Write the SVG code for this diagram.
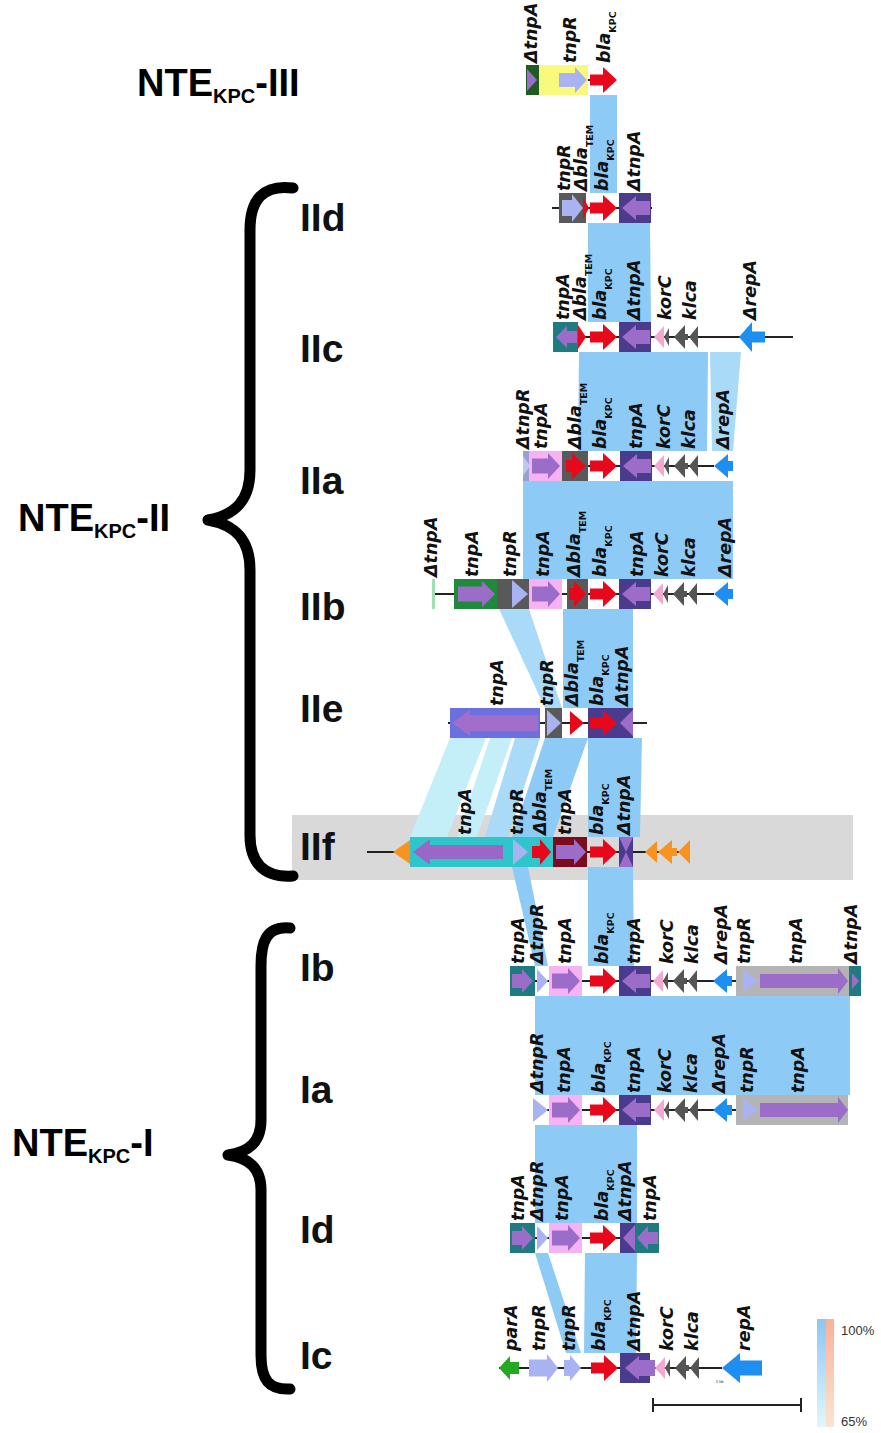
<svg xmlns="http://www.w3.org/2000/svg" width="881" height="1433" viewBox="0 0 881 1433">
<defs>
<style>
.lab{font-family:"DejaVu Sans","Open Sans",sans-serif;font-weight:700;font-style:oblique;font-size:17.5px;fill:#111}
.sub{font-size:9.5px;font-style:normal}
.big{font-family:"Liberation Sans",Arial,sans-serif;font-weight:700;font-size:38px;fill:#000}
.bsub{font-size:20px}
.row{font-family:"Liberation Sans",Arial,sans-serif;font-weight:700;font-size:39px;fill:#111}
.ln{stroke:#222;stroke-width:2}
.bd{fill:#8ecaf6}
.bl{fill:#a9dbf8}
.bc{fill:#c4eff9}
.dp{fill:#4a3b8f}
.lv{fill:#9b6dc9}
.tl{fill:#1e7b80}
.pk{fill:#f6b2f3}
.dg{fill:#595959}
.pw{fill:#aab3f1}
.rd{fill:#e8081c}
.kc{fill:#f3a8d2}
.kl{fill:#555}
.rp{fill:#1d8ff0}
.lg{fill:#b4b4b4}
.or{fill:#f7931e}
.brace{fill:none;stroke:#000;stroke-width:11;stroke-linecap:round;stroke-linejoin:round}
.pct{font-family:"Liberation Sans",Arial,sans-serif;font-size:13px;fill:#333}
</style>
<linearGradient id="gB" x1="0" y1="0" x2="0" y2="1"><stop offset="0" stop-color="#8cc6f3"/><stop offset="1" stop-color="#e2f7fb"/></linearGradient>
<linearGradient id="gS" x1="0" y1="0" x2="0" y2="1"><stop offset="0" stop-color="#f8b296"/><stop offset="1" stop-color="#fde3d3"/></linearGradient>
<!-- blaKPC arrow, 27 px long -->
<polygon id="bla" class="rd" points="0,-5.5 13,-5.5 13,-13 27,0 13,13 13,5.5 0,5.5"/>
<!-- tnpA box: dark purple with left-pointing lavender arrow -->
<g id="tnpAL">
<rect class="dp" x="0" y="-15" width="32" height="30"/>
<polygon class="lv" points="3,0 17,-12 17,-7 31,-7 31,7 17,7 17,12"/>
</g>
<!-- korC + klca cluster -->
<g id="kk">
<polygon class="kc" points="0,0 10,-11 10,11"/>
<polygon class="kl" points="10,0 15,-9 15,9"/>
<polygon class="kl" points="20,0 31,-12 31,-3 34,-3 34,3 31,3 31,12"/>
<polygon class="kl" points="35,0 44,-11 44,11"/>
</g>
<!-- pink tnpA box with right arrow -->
<g id="tnpAR">
<rect class="pk" x="0" y="-15" width="33" height="30"/>
<polygon class="lv" points="3,-7.5 19,-7.5 19,-13 31,0 19,13 19,7.5 3,7.5"/>
</g>
<!-- teal tnpA box with right arrow -->
<g id="tealR">
<rect class="tl" x="0" y="-15" width="25" height="30"/>
<polygon class="lv" points="2,-7 12,-7 12,-12 23,0 12,12 12,7 2,7"/>
</g>
<!-- small deleted repA -->
<polygon id="drep" class="rp" points="0,0 14,-12 14,-5 19,-5 19,5 14,5 14,12"/>
</defs>

<rect width="881" height="1433" fill="#fff"/>

<!-- IIf highlight strip -->
<rect x="292" y="815" width="561" height="65" fill="#d9d9d9"/>

<!-- comparison bands -->
<g id="links">
<polygon class="bd" points="590,95 617,95 617,193 590,193"/>
<polygon class="bd" points="588,223 650,223 651,322 588,322"/>
<polygon class="bd" points="579,352 708,352 707,451 578,451"/>
<polygon class="bl" points="710,352 741,352 733,451 712,451"/>
<polygon class="bd" points="523,481 733,481 733,579 523,579"/>
<polygon class="bl" points="499,609 529,609 562,708 545,708"/>
<polygon class="bd" points="563,609 633,609 633,708 563,708"/>
<polygon class="bc" points="450,738 486,738 447,837 410,837"/>
<polygon class="bc" points="490,738 512,738 477,837 457,837"/>
<polygon class="bl" points="515,738 540,738 508,837 485,837"/>
<polygon class="bd" points="545,738 588,738 553,837 512,837"/>
<polygon class="bd" points="588,738 642,738 640,837 588,837"/>
<polygon class="bd" points="512,867 528,867 548,966 535,966"/>
<polygon class="bd" points="588,867 633,867 634,966 588,966"/>
<polygon class="bd" points="535,996 850,996 850,1095 535,1095"/>
<polygon class="bd" points="535,1125 637,1125 637,1223 535,1223"/>
<polygon class="bd" points="535,1253 548,1253 581,1353 566,1353"/>
<polygon class="bd" points="585,1253 637,1253 636,1353 584,1353"/>
</g>

<!-- group labels and braces -->
<g id="labels">
<text class="big" x="137" y="96">NTE<tspan class="bsub" dy="7">KPC</tspan><tspan dy="-7">-III</tspan></text>
<text class="big" x="18" y="531">NTE<tspan class="bsub" dy="7">KPC</tspan><tspan dy="-7">-II</tspan></text>
<text class="big" x="12" y="1156">NTE<tspan class="bsub" dy="7">KPC</tspan><tspan dy="-7">-I</tspan></text>
<path class="brace" d="M293,188 C263,184 250,200 250,230 L250,470 C250,500 236,515 208,520 C236,525 250,540 250,570 L250,835 C250,862 263,878 293,876"/>
<path class="brace" d="M290,928 C266,926 261,942 261,966 L261,1120 C261,1142 249,1152 228,1155 C249,1158 261,1168 261,1190 L261,1355 C261,1380 269,1390 290,1389"/>
<text class="row" x="300" y="231">IId</text>
<text class="row" x="300" y="362">IIc</text>
<text class="row" x="300" y="494">IIa</text>
<text class="row" x="300" y="620">IIb</text>
<text class="row" x="300" y="722">IIe</text>
<text class="row" x="300" y="860">IIf</text>
<text class="row" x="300" y="981">Ib</text>
<text class="row" x="300" y="1103">Ia</text>
<text class="row" x="300" y="1243">Id</text>
<text class="row" x="300" y="1369">Ic</text>
</g>

<!-- NTE-III -->
<g id="row-III" transform="translate(0,80)">
<line class="ln" x1="586" y1="0" x2="591" y2="0"/>
<rect x="526" y="-15" width="13" height="30" fill="#1e5a22"/>
<polygon class="lv" points="527,-11 537,0 527,11"/>
<rect x="539" y="-15" width="49" height="30" fill="#f9f97e"/>
<polygon class="pw" points="559,-7 575,-7 575,-13 587,0 575,13 575,7 559,7"/>
<use href="#bla" x="590"/>
<text class="lab" transform="translate(537,-17) rotate(-90)">ΔtnpA</text>
<text class="lab" transform="translate(576,-17) rotate(-90)">tnpR</text>
<text class="lab" transform="translate(610,-17) rotate(-90)">bla<tspan class="sub" dy="6">KPC</tspan></text>
</g>

<!-- IId -->
<g id="row-IId" transform="translate(0,208)">
<line class="ln" x1="552" y1="0" x2="652" y2="0"/>
<rect class="dg" x="559" y="-15" width="27" height="30"/>
<polygon class="pw" points="562,-8 572,-8 572,-14 583,0 572,14 572,8 562,8"/>
<polygon class="rd" points="583,-11 589,0 583,11"/>
<use href="#bla" x="590"/>
<use href="#tnpAL" x="619"/>
<text class="lab" transform="translate(570,-17) rotate(-90)">tnpR</text>
<text class="lab" transform="translate(587,-17) rotate(-90)">Δbla<tspan class="sub" dy="6">TEM</tspan></text>
<text class="lab" transform="translate(608,-17) rotate(-90)">bla<tspan class="sub" dy="6">KPC</tspan></text>
<text class="lab" transform="translate(640,-17) rotate(-90)">ΔtnpA</text>
</g>

<!-- IIc -->
<g id="row-IIc" transform="translate(0,337)">
<line class="ln" x1="578" y1="0" x2="793" y2="0"/>
<rect class="tl" x="553" y="-15" width="25" height="30"/>
<polygon class="lv" points="556,0 567,-11 567,-6 577,-6 577,6 567,6 567,11"/>
<polygon class="rd" points="578,-12 586,0 578,12"/>
<use href="#bla" x="590"/>
<use href="#tnpAL" x="619"/>
<use href="#kk" x="654"/>
<polygon class="rp" points="739,0 752,-15 752,-5.5 765,-5.5 765,5.5 752,5.5 752,15"/>
<text class="lab" transform="translate(569,-17) rotate(-90)">tnpA</text>
<text class="lab" transform="translate(586,-17) rotate(-90)">Δbla<tspan class="sub" dy="6">TEM</tspan></text>
<text class="lab" transform="translate(606,-17) rotate(-90)">bla<tspan class="sub" dy="6">KPC</tspan></text>
<text class="lab" transform="translate(640,-17) rotate(-90)">ΔtnpA</text>
<text class="lab" transform="translate(671,-17) rotate(-90)">korC</text>
<text class="lab" transform="translate(696,-17) rotate(-90)">klca</text>
<text class="lab" transform="translate(756,-17) rotate(-90)">ΔrepA</text>
</g>

<!-- IIa -->
<g id="row-IIa" transform="translate(0,466)">
<line class="ln" x1="523" y1="0" x2="714" y2="0"/>
<rect x="523" y="-15" width="7" height="30" fill="#9aa0d4"/>
<polygon points="523,-10 530,0 523,10" fill="#c0c6f6"/>
<use href="#tnpAR" x="529"/>
<rect class="dg" x="562" y="-15" width="26" height="30"/>
<polygon class="rd" points="566,-6 572,-6 572,-13 586,0 572,13 572,6 566,6"/>
<use href="#bla" x="590"/>
<use href="#tnpAL" x="620"/>
<use href="#kk" x="654"/>
<use href="#drep" x="714"/>
<text class="lab" transform="translate(529,-17) rotate(-90)">ΔtnpR</text>
<text class="lab" transform="translate(547,-17) rotate(-90)">tnpA</text>
<text class="lab" transform="translate(581,-17) rotate(-90)">Δbla<tspan class="sub" dy="6">TEM</tspan></text>
<text class="lab" transform="translate(606,-17) rotate(-90)">bla<tspan class="sub" dy="6">KPC</tspan></text>
<text class="lab" transform="translate(642,-17) rotate(-90)">tnpA</text>
<text class="lab" transform="translate(670,-17) rotate(-90)">korC</text>
<text class="lab" transform="translate(695,-17) rotate(-90)">klca</text>
<text class="lab" transform="translate(729,-17) rotate(-90)">ΔrepA</text>
</g>

<!-- IIb -->
<g id="row-IIb" transform="translate(0,594)">
<line class="ln" x1="433" y1="0" x2="714" y2="0"/>
<rect x="432" y="-15" width="3" height="30" fill="#9ee0b0"/>
<rect x="454" y="-15" width="43" height="30" fill="#1e8a3a"/>
<polygon class="lv" points="458,-7.5 482,-7.5 482,-13 495,0 482,13 482,7.5 458,7.5"/>
<rect class="dg" x="497" y="-15" width="32" height="30"/>
<polygon class="pw" points="512,-14 528,0 512,14"/>
<use href="#tnpAR" x="529"/>
<rect class="dg" x="567" y="-15" width="21" height="30"/>
<polygon class="rd" points="569,-6 574,-6 574,-13 586,0 574,13 574,6 569,6"/>
<use href="#bla" x="590"/>
<use href="#tnpAL" x="619"/>
<use href="#kk" x="653"/>
<use href="#drep" x="714"/>
<text class="lab" transform="translate(437,-17) rotate(-90)">ΔtnpA</text>
<text class="lab" transform="translate(478,-17) rotate(-90)">tnpA</text>
<text class="lab" transform="translate(516,-17) rotate(-90)">tnpR</text>
<text class="lab" transform="translate(549,-17) rotate(-90)">tnpA</text>
<text class="lab" transform="translate(580,-17) rotate(-90)">Δbla<tspan class="sub" dy="6">TEM</tspan></text>
<text class="lab" transform="translate(606,-17) rotate(-90)">bla<tspan class="sub" dy="6">KPC</tspan></text>
<text class="lab" transform="translate(643,-17) rotate(-90)">tnpA</text>
<text class="lab" transform="translate(668,-17) rotate(-90)">korC</text>
<text class="lab" transform="translate(695,-17) rotate(-90)">klca</text>
<text class="lab" transform="translate(731,-17) rotate(-90)">ΔrepA</text>
</g>

<!-- IIe -->
<g id="row-IIe" transform="translate(0,723)">
<line class="ln" x1="448" y1="0" x2="647" y2="0"/>
<rect x="450" y="-15" width="90" height="30" fill="#6b6fe0"/>
<polygon points="452,0 470,-13 470,-8 538,-8 538,8 470,8 470,13" fill="#a16fc9"/>
<rect class="dg" x="545" y="-15" width="17" height="30"/>
<polygon class="pw" points="547,-13 561,0 547,13"/>
<polygon class="rd" points="570,-12 584,0 570,12"/>
<rect class="dp" x="588" y="-15" width="45" height="30"/>
<use href="#bla" x="590"/>
<polygon class="lv" points="620,0 633,-13 633,13"/>
<text class="lab" transform="translate(503,-17) rotate(-90)">tnpA</text>
<text class="lab" transform="translate(553,-17) rotate(-90)">tnpR</text>
<text class="lab" transform="translate(578,-17) rotate(-90)">Δbla<tspan class="sub" dy="6">TEM</tspan></text>
<text class="lab" transform="translate(603,-17) rotate(-90)">bla<tspan class="sub" dy="6">KPC</tspan></text>
<text class="lab" transform="translate(628,-17) rotate(-90)">ΔtnpA</text>
</g>

<!-- IIf -->
<g id="row-IIf" transform="translate(0,852)">
<line class="ln" x1="367" y1="0" x2="690" y2="0"/>
<polygon class="or" points="393,0 410,-12 410,12"/>
<rect x="410" y="-15" width="143" height="30" fill="#2ec5cb"/>
<polygon points="413,0 430,-13 430,-7 503,-7 503,7 430,7 430,13" fill="#9a67c6"/>
<polygon class="pw" points="513,-13 528,0 513,13"/>
<polygon class="rd" points="532,-6 540,-6 540,-13 551,0 540,13 540,6 532,6"/>
<rect x="553" y="-15" width="34" height="30" fill="#7a0c1e"/>
<polygon class="lv" points="556,-7 574,-7 574,-13 586,0 574,13 574,7 556,7"/>
<use href="#bla" x="590"/>
<rect class="lv" x="619" y="-15" width="14" height="30"/>
<polygon class="dp" points="619,-15 626,0 619,15"/>
<polygon class="dp" points="633,-15 626,0 633,15"/>
<polygon class="or" points="645,0 657,-11 657,11"/>
<polygon class="or" points="658,0 672,-12 672,-4 677,-4 677,4 672,4 672,12"/>
<polygon class="or" points="678,0 690,-12 690,12"/>
<text class="lab" transform="translate(471,-17) rotate(-90)">tnpA</text>
<text class="lab" transform="translate(523,-17) rotate(-90)">tnpR</text>
<text class="lab" transform="translate(546,-17) rotate(-90)">Δbla<tspan class="sub" dy="6">TEM</tspan></text>
<text class="lab" transform="translate(571,-17) rotate(-90)">tnpA</text>
<text class="lab" transform="translate(603,-17) rotate(-90)">bla<tspan class="sub" dy="6">KPC</tspan></text>
<text class="lab" transform="translate(630,-17) rotate(-90)">ΔtnpA</text>
</g>

<!-- Ib -->
<g id="row-Ib" transform="translate(0,981)">
<line class="ln" x1="535" y1="0" x2="736" y2="0"/>
<use href="#tealR" x="510"/>
<polygon class="pw" points="537,-12 548,0 537,12"/>
<use href="#tnpAR" x="549"/>
<use href="#bla" x="590"/>
<use href="#tnpAL" x="619"/>
<use href="#kk" x="653"/>
<use href="#drep" x="713"/>
<rect class="lg" x="736" y="-15" width="113" height="30"/>
<polygon class="pw" points="743,-12 758,0 743,12"/>
<polygon class="lv" points="760,-7 838,-7 838,-13 848,0 838,13 838,7 760,7"/>
<rect class="tl" x="849" y="-15" width="12" height="30"/>
<polygon class="lv" points="852,-8 859,0 852,8"/>
<text class="lab" transform="translate(524,-17) rotate(-90)">tnpA</text>
<text class="lab" transform="translate(543,-17) rotate(-90)">ΔtnpR</text>
<text class="lab" transform="translate(571,-17) rotate(-90)">tnpA</text>
<text class="lab" transform="translate(608,-17) rotate(-90)">bla<tspan class="sub" dy="6">KPC</tspan></text>
<text class="lab" transform="translate(640,-17) rotate(-90)">tnpA</text>
<text class="lab" transform="translate(673,-17) rotate(-90)">korC</text>
<text class="lab" transform="translate(698,-17) rotate(-90)">klca</text>
<text class="lab" transform="translate(727,-17) rotate(-90)">ΔrepA</text>
<text class="lab" transform="translate(750,-17) rotate(-90)">tnpR</text>
<text class="lab" transform="translate(802,-17) rotate(-90)">tnpA</text>
<text class="lab" transform="translate(857,-17) rotate(-90)">ΔtnpA</text>
</g>

<!-- Ia -->
<g id="row-Ia" transform="translate(0,1110)">
<line class="ln" x1="533" y1="0" x2="736" y2="0"/>
<polygon class="pw" points="533,-12 548,0 533,12"/>
<use href="#tnpAR" x="549"/>
<use href="#bla" x="590"/>
<use href="#tnpAL" x="619"/>
<use href="#kk" x="654"/>
<use href="#drep" x="713"/>
<rect class="lg" x="736" y="-15" width="112" height="30"/>
<polygon class="pw" points="743,-12 758,0 743,12"/>
<polygon class="lv" points="760,-7 838,-7 838,-13 848,0 838,13 838,7 760,7"/>
<text class="lab" transform="translate(543,-17) rotate(-90)">ΔtnpR</text>
<text class="lab" transform="translate(570,-17) rotate(-90)">tnpA</text>
<text class="lab" transform="translate(605,-17) rotate(-90)">bla<tspan class="sub" dy="6">KPC</tspan></text>
<text class="lab" transform="translate(640,-17) rotate(-90)">tnpA</text>
<text class="lab" transform="translate(671,-17) rotate(-90)">korC</text>
<text class="lab" transform="translate(697,-17) rotate(-90)">klca</text>
<text class="lab" transform="translate(725,-17) rotate(-90)">ΔrepA</text>
<text class="lab" transform="translate(753,-17) rotate(-90)">tnpR</text>
<text class="lab" transform="translate(804,-17) rotate(-90)">tnpA</text>
</g>

<!-- Id -->
<g id="row-Id" transform="translate(0,1238)">
<line class="ln" x1="535" y1="0" x2="620" y2="0"/>
<use href="#tealR" x="510"/>
<polygon class="pw" points="537,-12 548,0 537,12"/>
<use href="#tnpAR" x="549"/>
<use href="#bla" x="590"/>
<rect class="dp" x="620" y="-15" width="15" height="30"/>
<polygon class="lv" points="623,0 635,-13 635,13"/>
<rect class="tl" x="635" y="-15" width="24" height="30"/>
<polygon class="lv" points="637,0 648,-12 648,-6 658,-6 658,6 648,6 648,12"/>
<text class="lab" transform="translate(524,-17) rotate(-90)">tnpA</text>
<text class="lab" transform="translate(543,-17) rotate(-90)">ΔtnpR</text>
<text class="lab" transform="translate(568,-17) rotate(-90)">tnpA</text>
<text class="lab" transform="translate(608,-17) rotate(-90)">bla<tspan class="sub" dy="6">KPC</tspan></text>
<text class="lab" transform="translate(631,-17) rotate(-90)">ΔtnpA</text>
<text class="lab" transform="translate(656,-17) rotate(-90)">tnpA</text>
</g>

<!-- Ic -->
<g id="row-Ic" transform="translate(0,1368)">
<line class="ln" x1="499" y1="0" x2="722" y2="0"/>
<polygon points="499,0 510,-12 510,-6 519,-6 519,6 510,6 510,12" fill="#22aa22"/>
<polygon class="pw" points="529,-8.5 547,-8.5 547,-14 558,0 547,14 547,8.5 529,8.5"/>
<polygon class="pw" points="564,-8 570,-8 570,-13 581,0 570,13 570,8 564,8"/>
<use href="#bla" x="591"/>
<rect class="dp" x="620" y="-15" width="30" height="30"/>
<polygon class="lv" points="625,0 639,-12 639,-8 655,-8 655,8 639,8 639,12"/>
<use href="#kk" x="655"/>
<polygon class="rp" points="722,0 740,-15 740,-7.5 762,-7.5 762,7.5 740,7.5 740,15"/>
<text x="716" y="15" font-family="Liberation Sans, sans-serif" font-size="4" fill="#333">5 kb</text>
<text class="lab" transform="translate(517,-17) rotate(-90)">parA</text>
<text class="lab" transform="translate(545,-17) rotate(-90)">tnpR</text>
<text class="lab" transform="translate(575,-17) rotate(-90)">tnpR</text>
<text class="lab" transform="translate(605,-17) rotate(-90)">bla<tspan class="sub" dy="6">KPC</tspan></text>
<text class="lab" transform="translate(640,-17) rotate(-90)">ΔtnpA</text>
<text class="lab" transform="translate(673,-17) rotate(-90)">korC</text>
<text class="lab" transform="translate(698,-17) rotate(-90)">klca</text>
<text class="lab" transform="translate(750,-17) rotate(-90)">repA</text>
</g>

<!-- scale bar and identity legend -->
<g id="legend">
<line class="ln" x1="652" y1="1405" x2="802" y2="1405"/>
<line class="ln" x1="653" y1="1398" x2="653" y2="1412"/>
<line class="ln" x1="801" y1="1398" x2="801" y2="1412"/>
<rect x="817" y="1319" width="9" height="108" fill="url(#gB)"/>
<rect x="826" y="1319" width="8" height="108" fill="url(#gS)"/>
<text class="pct" x="841" y="1335">100%</text>
<text class="pct" x="841" y="1426">65%</text>
</g>
</svg>
